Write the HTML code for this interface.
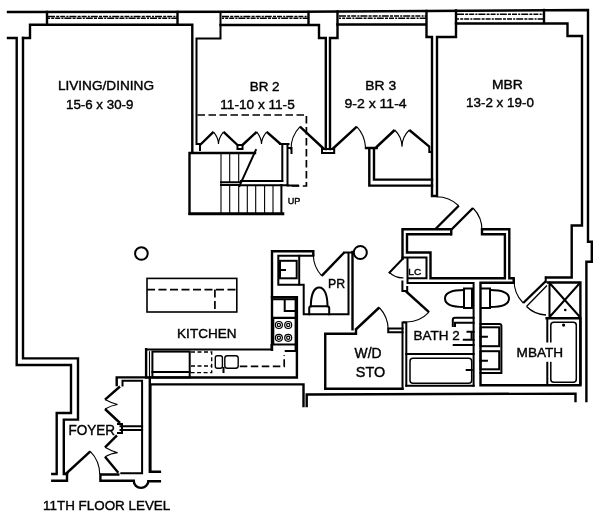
<!DOCTYPE html>
<html><head><meta charset="utf-8"><style>
html,body{margin:0;padding:0;background:#fff;}
svg{display:block;will-change:transform;}
text{font-family:"Liberation Sans",sans-serif;fill:#000;stroke:#000;stroke-width:0.4;}
.w{fill:none;stroke:#000;stroke-width:2.4;stroke-linejoin:miter;stroke-linecap:square;}
.m{fill:none;stroke:#000;stroke-width:2;stroke-linecap:square;}
.b{fill:none;stroke:#000;stroke-width:2.4;stroke-linecap:butt;}
.t{fill:none;stroke:#000;stroke-width:1.1;}
.d{fill:none;stroke:#000;stroke-width:1.7;stroke-dasharray:7.5 3.5;}
.wd{fill:none;stroke:#000;stroke-width:1.5;stroke-dasharray:7 1.2 3 1 5 1.2 2 1;}
</style></head><body>
<svg width="600" height="518" viewBox="0 0 600 518">
<!-- ===== exterior top ===== -->
<path class="w" d="M8 12 L300 11.7 L426 11 L588 10 L588 241.7 L591.8 241.7 L591.8 261.8 L586.4 261.8 L586.4 401"/>
<path class="wd" d="M48 16.4 H177 M222 16.4 H308 M339 16 H426 M457 14.2 H544"/>
<path class="wd" style="stroke-dashoffset:5" d="M48 18.3 H177 M222 18.3 H308 M339 18.2 H426 M457 19 H544"/>
<!-- col 1 left -->
<path class="w" d="M47 12 V24.8 M23 38 H30 V24.8 H192.3 V152"/>
<path class="w" d="M177.5 12 V24.5"/>
<!-- col 1 right / BR2 wall -->
<path class="m" d="M220.5 12 V38.5 H196.5 V144 H200 V150"/>
<path class="w" d="M220.5 25 H319 V38 H325.8 V149"/>
<path class="w" d="M308.5 12 V24.5"/>
<path class="w" d="M337.5 11.5 V38 H330 V149"/>
<path class="w" d="M337.5 24.5 H426.5 M426.5 11 V37 H432 V196 H437 V37 H456 V10.5"/>
<path class="w" d="M456 23.5 H567.5 V36 H582 V225.5 H571.7 V277.5 H546"/>
<path class="w" d="M544 10 V23"/>
<!-- ===== left exterior ===== -->
<path class="w" d="M8 38 H16.7 V365 H71 V413 H56.7 V474 H52.3"/>
<path class="w" d="M23 38 V358.4 H78 V419.6 H63.8 V474 H67"/>
<path class="w" d="M52.3 480.7 H67 V474"/>

<!-- ===== BR2 closet ===== -->
<path class="d" d="M197.5 115 H306.4 V186 H288"/>
<path class="b" d="M200 145 L213.5 131.8 M223.5 131.8 L237.5 145 M242.5 145 L256.7 131.8 M266.7 131.8 L280.5 144"/>
<path class="t" d="M213.5 131.8 Q218.5 138 218.5 144 Q218.5 138 223.5 131.8 M256.7 131.8 Q261.5 138 261.5 144 Q261.5 138 266.7 131.8"/>
<rect x="237.5" y="145" width="5" height="4" class="m"/>
<path class="m" d="M280 144 H288.5 M282.3 144 V181 M287.5 144 V185.5 H298 M288.5 148 H291.5 V153"/>
<!-- stairs -->
<path class="w" d="M189.5 153 H255 M189.5 153 V213.7"/>
<path style="fill:none;stroke:#000;stroke-width:3" d="M188.5 213.7 H284.3"/>
<path class="t" d="M221 152.5 V213.7 M229.7 152.5 V182.3 M238.7 152.5 V182.3 M229.7 185 V213.7 M238.7 185 V213.7 M247.3 185 V213.7 M255.7 185 V213.7 M264.6 185 V213.7 M273 185 V213.7"/>
<path class="m" d="M221 182.3 H240 M221 185 H240"/>
<path class="m" d="M255.8 150 L239.5 186"/>
<path class="m" d="M241 181 H282.3 M239.7 185.3 H287.5 M281.4 185 V214"/>
<!-- ===== BR2 / BR3 doors ===== -->
<rect x="322" y="149" width="12.2" height="4" class="m"/>
<path class="b" d="M324 149 L300 126.7 M332.5 149 L356.8 126.7"/>
<path class="t" d="M300 126.7 A32.6 32.6 0 0 0 291 150 M356.8 126.7 A33 33 0 0 1 365.5 147"/>
<!-- BR3 closet -->
<path class="b" d="M376 147.5 L394.7 130 M409.3 130 L429.3 146.7"/>
<path class="t" d="M394.7 130 Q402 137 402 146.7 Q402 137 409.3 130"/>
<path class="w" d="M366 148 H376.7 M369.3 148 V185.6 H432 M374 148 V179.6 H432"/><path class="m" d="M429.3 147 V152 H432"/>
<!-- ===== circles ===== -->
<circle cx="141.4" cy="253.5" r="6.3" class="m"/>
<circle cx="360.3" cy="252.5" r="6.5" class="m"/>


<!-- ===== MBR door / WIC / LC ===== -->
<path class="b" d="M458.75 205.75 L435.5 229 M451.25 229.75 L473 208"/>
<path class="t" d="M436.3 196.8 A32.5 32.5 0 0 1 458.75 205.75 M473 208 A31.5 31.5 0 0 1 482 230.5"/>
<path class="w" d="M451.25 234.25 V229.3 H402.5 V258.5"/>
<path class="w" d="M450.5 234.25 H407 V252.5 H430.5 V278.3 H504.9 V234.25 H482 V229.3 H509.3 V278.3 H513.7 V282.8 H480.5 V385.2 H580.4 V318.3"/>
<path class="m" d="M402.5 257.5 H426.5 V278.3 H407.5 V283 H473.6 V385.8 M407.5 257.5 V278.3"/>
<path class="m" d="M402.5 259 L389.5 272.5"/>
<path class="t" d="M389.5 272.5 A18.7 18.7 0 0 0 403.5 277.8"/>
<!-- Bath2 door / left wall -->
<path class="m" d="M402.4 281.4 V291 H407.2 V287"/>
<path class="b" d="M405.6 291 L429 312.2"/>
<path class="t" d="M429 312.2 A31 31 0 0 1 403 321.7"/>
<path class="m" d="M402.5 322.5 H406.3 M402.5 322.5 V388.7 M406.3 322.5 V385.8"/>
<!-- Bath2 fixtures -->
<path class="m" d="M464 288.5 H472 V308 H464 Z"/>
<path class="m" d="M464 290 C452 290 445 293 445 298.5 C445 304 452 307 464 307"/>
<path class="m" d="M452.8 326 V320 Q452.8 317.8 455 317.8 H473.6 M455 326 V322.8 H473.6 M467.5 331.8 H473.6 M463.8 339.8 H473.6 M471.6 331.8 V339.8 M453.7 344.9 H473.6"/>
<path class="m" d="M406.3 354 H473.6 M406.3 385.8 H473.6"/>
<rect x="410" y="358.3" width="61.7" height="25" rx="3" class="m" style="stroke-width:1.5"/>
<path class="m" d="M466.7 370 H471.7"/>
<!-- MBATH fixtures -->
<path class="m" d="M481.5 288.5 H490 V308 H481.5"/>
<path class="m" d="M490 290 C502 290 509 293 509 298.5 C509 304 502 307 490 307"/>
<path class="m" d="M480.5 324 H499.4 Q501.4 324 501.4 326 V373 H480.5"/>
<rect x="480.5" y="327.3" width="18.7" height="18.9" class="m"/>
<rect x="480.5" y="351.2" width="18.7" height="18.1" class="m"/>
<path class="m" d="M480.5 336.7 H486.9 M480.5 360.7 H486.9"/>
<!-- MBATH door + shower -->
<path class="b" d="M545.7 281.25 L523.2 303"/>
<path class="t" d="M523.2 303 A31.3 31.3 0 0 1 514.25 279"/>
<path class="t" style="stroke-width:1.3" d="M547 285.5 L526.5 306.5 M526.5 306.5 A29.5 29.5 0 0 0 546 315"/>
<path class="m" d="M545.75 277.5 V282"/>
<path class="w" d="M548 282.5 H580.4 V384 M546.6 318.3 H580.4"/>
<path class="m" d="M549.5 282.5 V318 M550.5 284 L579 316 M579 284 L550.5 316"/>
<circle cx="565.25" cy="310" r="1.3" fill="#000"/>
<path class="m" d="M547.3 318.3 V384"/>
<rect x="550.8" y="322.2" width="25.5" height="60" rx="3" class="m" style="stroke-width:1.5"/>
<rect x="545" y="342.5" width="8" height="19.3" fill="#fff"/>
<circle cx="563.6" cy="325.1" r="1.6" fill="#000"/>
<!-- corridor walls bottom -->
<path class="w" d="M150.4 471.8 V384.4 H303.5 V406"/>
<path class="w" d="M306.7 406 V394.5 L575.5 393.6 V401"/>
<!-- W/D -->
<path class="w" d="M325.25 388.7 V333.75 H356 V330"/>
<path class="w" d="M325.25 388.7 H402.5"/>
<path class="b" d="M355.25 330 L379.25 307.5"/>
<path class="t" d="M379.25 307.5 A33 33 0 0 1 388.25 329"/>
<path class="m" d="M388.25 328.5 H402.5 M388.25 332.25 H402.5 M388.25 328.5 V332.25"/>
<!-- PR -->
<path class="w" d="M313.3 255 V251.3 H272 V349.8"/>
<path class="m" d="M313.3 255.8 H278.3 V284.7 H303.7 V314.25 H348.5 V253.5 M344 252.5 H352.5"/>
<path class="w" d="M352.5 252 V329.25"/>
<path class="m" d="M299.2 255.8 V284.5"/>
<rect x="280" y="260.8" width="16.7" height="17.5" class="m"/>
<path class="m" d="M280 270 H285"/>
<path class="b" d="M321.7 275.8 L344.2 252.5"/>
<path class="t" d="M313.3 255 A31.5 31.5 0 0 0 321.7 275.8"/>
<path class="m" d="M309.2 314.2 V308.3 Q309.2 306.3 311.2 306.3 H327.2 Q329.2 306.3 329.2 308.3 V314.2"/>
<path class="m" d="M310.8 306.3 C311 295 314 287.5 319.2 287.5 C324.5 287.5 327.5 295 327.5 306.3"/>
<!-- Kitchen right counter -->
<path class="w" d="M272 297.2 H296.9 V377.5 H146.1 V349.3"/>
<path class="m" d="M146.1 349.6 H271.5 V345 M295.6 299.2 V350 M295.6 344.6 H273.3 V318 H295.6"/>
<path class="m" d="M284.7 299.2 V311.1 H295.8 M273 299.2 H295.8 M272 317.8 H295.8"/>
<g class="t" style="stroke-width:1.2"><circle cx="278.9" cy="325" r="3.5"/><circle cx="288.2" cy="325" r="3.5"/>
<circle cx="278.9" cy="337.8" r="3.5"/><circle cx="288.2" cy="337.8" r="3.5"/>
<circle cx="278.9" cy="325" r="1.6"/><circle cx="288.2" cy="325" r="1.6"/>
<circle cx="278.9" cy="337.8" r="1.6"/><circle cx="288.2" cy="337.8" r="1.6"/></g>
<path class="m" d="M285.7 351 H296"/>
<path class="d" d="M239.8 366.4 H284.2 V354.9"/>
<!-- fridge, DW, sink -->
<rect x="152.4" y="351.6" width="37.3" height="25.8" class="m"/>
<path class="m" d="M152.4 371.9 H189.7"/>
<path class="t" d="M149.5 351.2 V377.2"/>
<path class="d" style="stroke-width:1.3;stroke-dasharray:4 2.5" d="M191 352 H211.7 V372.7 H191 M191 366 H211.7"/>
<rect x="215.3" y="355.7" width="7.1" height="12.6" rx="2" class="m" style="stroke-width:1.4"/>
<rect x="224.8" y="355.7" width="13.4" height="12.6" rx="2.5" class="m" style="stroke-width:1.4"/>
<path class="m" d="M223.5 368 V372"/>
<!-- island -->
<rect x="147" y="278.4" width="89.8" height="33.6" class="m" style="stroke-width:1.6"/>
<path class="d" style="stroke-dasharray:8 3.5" d="M147 289.6 H236.8 M214.9 289.6 V312"/>
<!-- foyer closets -->
<path class="w" d="M146.1 377.4 H116.7 V385"/>
<path class="m" d="M122.5 385.5 V380.8 H142.1 V473.3 H121.3"/>
<path class="w" d="M149.8 377.5 V471.8 H159.9"/>
<path class="m" d="M120.5 426.2 H142.1 M120.5 430 H142.1"/>
<path class="b" d="M120 386.5 L105 399.6 M105 409 L120 423 M117 435.3 L105 447.3 M105 456.7 L118.3 472.7"/>
<path class="t" d="M105 399.6 Q111 403 117.5 404.5 Q111 405.5 105 409 M105 447.3 Q111 451 117.7 452.7 Q111 453 105 456.7"/>
<path class="m" d="M118 424 H122 V433 H118"/>
<!-- foyer door -->
<path class="b" d="M65.7 474 L90.3 451.3"/>
<path class="t" d="M90.3 451.3 A33 33 0 0 1 99.7 474"/>
<path class="w" d="M100.4 480.8 V474.5 H118.3 M100.4 480.8 H133.8 M148.3 481.2 H159.9"/>
<path class="w" style="stroke-linecap:butt" d="M133.8 481 A7.2 6.7 0 0 0 148.3 481.2"/>

<!-- text -->
<text x="57.90" y="90.40" font-size="13.4" textLength="96.11" lengthAdjust="spacingAndGlyphs">LIVING/DINING</text>
<text x="66.00" y="108.50" font-size="13.4" textLength="67.39" lengthAdjust="spacingAndGlyphs">15-6 x 30-9</text>
<text x="249.70" y="90.55" font-size="13.4" textLength="29.83" lengthAdjust="spacingAndGlyphs">BR 2</text>
<text x="220.30" y="108.73" font-size="13.4" textLength="74.44" lengthAdjust="spacingAndGlyphs">11-10 x 11-5</text>
<text x="365.30" y="90.30" font-size="13.4" textLength="30.85" lengthAdjust="spacingAndGlyphs">BR 3</text>
<text x="344.40" y="108.30" font-size="13.4" textLength="62.29" lengthAdjust="spacingAndGlyphs">9-2 x 11-4</text>
<text x="492.00" y="88.70" font-size="13.4" textLength="30.77" lengthAdjust="spacingAndGlyphs">MBR</text>
<text x="466.10" y="107.47" font-size="13.4" textLength="67.76" lengthAdjust="spacingAndGlyphs">13-2 x 19-0</text>
<text x="177.10" y="338.02" font-size="13.4" textLength="59.42" lengthAdjust="spacingAndGlyphs">KITCHEN</text>
<text x="328.00" y="288.24" font-size="13" textLength="17.06" lengthAdjust="spacingAndGlyphs">PR</text>
<text x="354.60" y="358.30" font-size="14" textLength="26.97" lengthAdjust="spacingAndGlyphs">W/D</text>
<text x="355.80" y="376.50" font-size="14" textLength="29.30" lengthAdjust="spacingAndGlyphs">STO</text>
<text x="408.30" y="274.62" font-size="9.4" textLength="12.84" lengthAdjust="spacingAndGlyphs">LC</text>
<text x="413.50" y="339.60" font-size="13.4" textLength="46.12" lengthAdjust="spacingAndGlyphs">BATH 2</text>
<text x="516.60" y="357.20" font-size="13" textLength="46.59" lengthAdjust="spacingAndGlyphs">MBATH</text>
<text x="287.80" y="204.36" font-size="9.4" textLength="12.65" lengthAdjust="spacingAndGlyphs">UP</text>
<text x="68.40" y="435.25" font-size="13.8" textLength="46.60" lengthAdjust="spacingAndGlyphs">FOYER</text>
<text x="43.10" y="510.30" font-size="13.6" textLength="127.14" lengthAdjust="spacingAndGlyphs">11TH FLOOR LEVEL</text>
</svg>
</body></html>
